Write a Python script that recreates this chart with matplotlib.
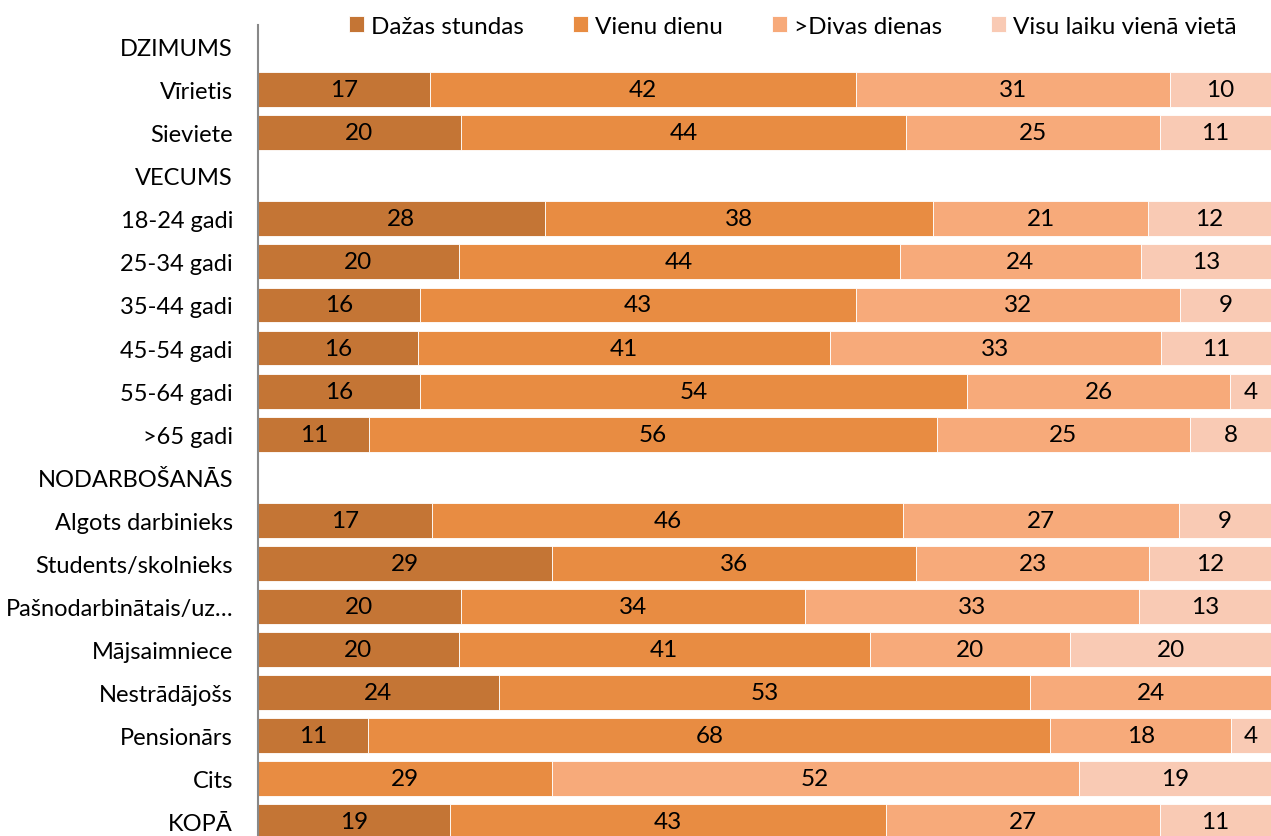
import numpy as np
import matplotlib.pyplot as plt

plt.rcParams['font.family'] = ['Lato', 'DejaVu Sans']

# rows, top to bottom (headers have no bar)
categories = ['DZIMUMS', 'Vīrietis', 'Sieviete', 'VECUMS', '18-24 gadi',
              '25-34 gadi', '35-44 gadi', '45-54 gadi', '55-64 gadi',
              '>65 gadi', 'NODARBOŠANĀS', 'Algots darbinieks',
              'Students/skolnieks', 'Pašnodarbinātais/uz…', 'Mājsaimniece',
              'Nestrādājošs', 'Pensionārs', 'Cits', 'KOPĀ']

series = ['Dažas stundas', 'Vienu dienu', '>Divas dienas', 'Visu laiku vienā vietā']

dazas = [0, 17, 20, 0, 28, 20, 16, 16, 16, 11, 0, 17, 29, 20, 20, 24, 11, 0, 19]
vienu = [0, 42, 44, 0, 38, 44, 43, 41, 54, 56, 0, 46, 36, 34, 41, 53, 68, 29, 43]
divas = [0, 31, 25, 0, 21, 24, 32, 33, 26, 25, 0, 27, 23, 33, 20, 24, 18, 52, 27]
visu = [0, 10, 11, 0, 12, 13, 9, 11, 4, 8, 0, 9, 12, 13, 20, 0, 4, 19, 11]

colors = ['#C47535', '#E88C42', '#F7AA7A', '#F9CAB4']

dpi = 100
W, H = 1271, 837
fig = plt.figure(figsize=(W/dpi, H/dpi), dpi=dpi)
ax = fig.add_axes([258/W, 0, (1271-258)/W, (837-26)/H])

data = np.array([dazas, vienu, divas, visu], dtype=float)
totals = data.sum(axis=0)
totals[totals == 0] = 1
share = data / totals * 100  # 100% stacked, like the original

y = np.arange(len(categories))
left = np.zeros(len(categories))
handles = []
for vals, shr, c, name in zip(data, share, colors, series):
    bars = ax.barh(y, shr, left=left, height=0.81, color=c,
                   edgecolor='white', linewidth=0.6, label=name)
    handles.append(bars)
    for yi, l, v, s in zip(y, left, vals, shr):
        if v > 0:
            ax.text(l + s/2, yi, f'{int(v)}', ha='center', va='center',
                    fontsize=17.5, color='black')
    left += shr

ax.set_xlim(0, 100)
ax.set_ylim(18.33, -0.5)
ax.set_yticks(y)
ax.set_yticklabels(categories, fontsize=17)
ax.tick_params(axis='y', length=0, pad=18)
ax.set_xticks([])
for s in ['top', 'right', 'bottom']:
    ax.spines[s].set_visible(False)
ax.spines['left'].set_color('#888888')
ax.spines['left'].set_linewidth(1.5)

fig.legend(handles, series, loc='center', bbox_to_anchor=(793/W, 1-27/H),
           ncol=4, frameon=False, fontsize=17.5, handlelength=0.62,
           handleheight=0.62, handletextpad=0.3, columnspacing=2.0)

plt.savefig('out.png', dpi=dpi)
